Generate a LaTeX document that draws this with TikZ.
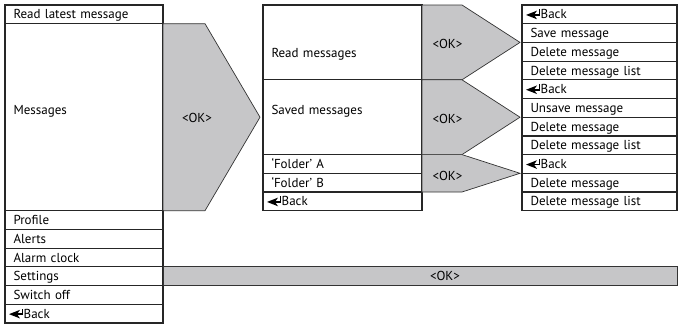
\documentclass[tikz,border=0pt]{standalone}
\usepackage{fontspec}
\setmainfont{PT Sans}
\usetikzlibrary{positioning,calc}
\definecolor{okgray}{RGB}{198,198,200}
\newcommand{\backicon}{\hspace*{-4.5pt}\tikz[baseline={(0,-4pt)}]{
    \fill[black] (0,0) -- (11pt,4.3pt) -- (8pt,0) -- (11pt,-4.3pt) -- cycle;
    \draw[black,line width=1.8pt] (6pt,0) -- (13pt,0);
    \draw[black,line width=1pt] (13pt,-0.9pt) -- (13pt,5.5pt);
  }\hspace{0.8pt}}

\begin{document}
\begin{tikzpicture}[font=\fontsize{13}{15}\selectfont,
    row/.style={draw=black!85, line width=1.2pt, outer sep=0pt, inner xsep=8.5pt, inner ysep=0pt,
      minimum height=18.7pt, text height=9.2pt, text depth=0pt, align=left},
    leftrow/.style={row, text width=141pt},
    midrow/.style={row, text width=142pt},
    rightrow/.style={row, text width=138pt},
    okarrow/.style={fill=okgray, draw=black!80, line width=0.7pt}]
    \useasboundingbox (0,0) rectangle (678pt,-324pt);

    % main menu
    \node [leftrow, anchor=north west] (latest) at (5pt,-5pt) {Read latest message};
    \node [leftrow, below=0pt of latest, minimum height=187pt, text height=8pt, text depth=14pt] (msgs) {Messages};
    \node [leftrow, below=0pt of msgs] (profile) {Profile};
    \node [leftrow, below=0pt of profile] (alerts) {Alerts};
    \node [leftrow, below=0pt of alerts] (alarm) {Alarm clock};
    \node [leftrow, below=0pt of alarm] (settings) {Settings};
    \node [leftrow, below=0pt of settings] (switchoff) {Switch off};
    \node [leftrow, below=0pt of switchoff] (back) {\backicon Back};

    % messages menu
    \node [midrow, anchor=north west, minimum height=74.8pt, text height=30pt] (readm) at (263pt,-5pt) {Read messages};
    \node [midrow, below=0pt of readm, minimum height=74.8pt, text height=8pt, text depth=14pt] (savedm) {Saved messages};
    \node [midrow, below=0pt of savedm] (folda) {`Folder' A};
    \node [midrow, below=0pt of folda] (foldb) {`Folder' B};
    \node [midrow, below=0pt of foldb] (mback) {\backicon Back};

    % options
    \node [rightrow, anchor=north west] (rback) at (522pt,-5pt) {\backicon Back};
    \node [rightrow, below=0pt of rback] (save) {Save message};
    \node [rightrow, below=0pt of save] (rdel) {Delete message};
    \node [rightrow, below=0pt of rdel] (rdell) {Delete message list};
    \node [rightrow, below=0pt of rdell] (sback) {\backicon Back};
    \node [rightrow, below=0pt of sback] (unsave) {Unsave message};
    \node [rightrow, below=0pt of unsave] (sdel) {Delete message};
    \node [rightrow, below=0pt of sdel] (sdell) {Delete message list};
    \node [rightrow, below=0pt of sdell] (fback) {\backicon Back};
    \node [rightrow, below=0pt of fback] (fdel) {Delete message};
    \node [rightrow, below=0pt of fdel] (fdell) {Delete message list};

    % <OK> arrows
    \draw [okarrow] (msgs.north east) -- ++(42pt,0) -- ($(msgs.east)+(97pt,0)$)
      -- ($(msgs.south east)+(42pt,0)$) -- (msgs.south east) -- cycle;
    \node (okmsgs) at ($(msgs.east)+(34pt,-1pt)$) {<OK>};

    \draw [okarrow] (readm.north east) -- ++(40pt,0) -- ($(readm.east)+(98pt,0)$)
      -- ($(readm.south east)+(40pt,0)$) -- (readm.south east) -- cycle;
    \node (okread) at ($(readm.east)+(25.5pt,-2pt)$) {<OK>};

    \draw [okarrow] (savedm.north east) -- ++(40pt,0) -- ($(savedm.east)+(98pt,0)$)
      -- ($(savedm.south east)+(40pt,0)$) -- (savedm.south east) -- cycle;
    \node (oksaved) at ($(savedm.east)+(25.5pt,-1.5pt)$) {<OK>};

    \draw [okarrow] (folda.north east) -- ++(40pt,0) -- ($(folda.south east)+(98pt,0)$)
      -- ($(foldb.south east)+(40pt,0)$) -- (foldb.south east) -- cycle;
    \node (okfold) at ($(folda.south east)+(25.5pt,-2.5pt)$) {<OK>};

    \draw [okarrow] (settings.north east) rectangle ($(settings.south east)+(514pt,0)$);
    \node (okset) at ($(settings.east)+(282pt,0)$) {<OK>};
\end{tikzpicture}
\end{document}
